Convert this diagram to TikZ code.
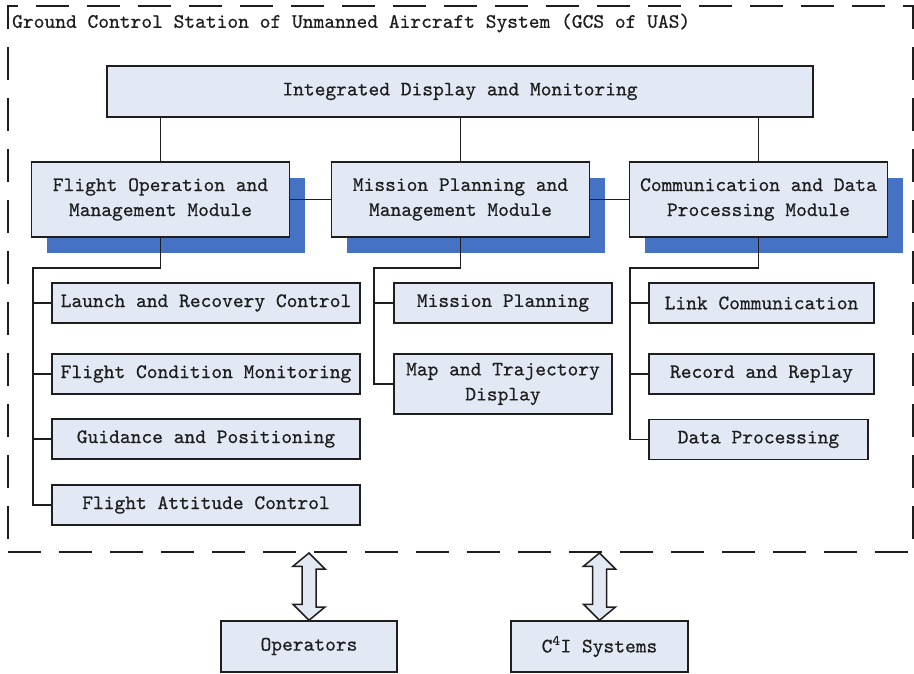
\documentclass[tikz,border=0pt]{standalone}
\usepackage{fontspec}
\usetikzlibrary{shadows,calc}

\newfontfamily\diagfont{lmmono10-regular}[Extension=.otf, FakeBold=0.6]

\definecolor{boxfill}{RGB}{226,233,245}
\definecolor{shadowblue}{RGB}{70,114,196}
\definecolor{inkgray}{RGB}{30,30,30}

\tikzset{
  txt/.style={font=\fontsize{20.5pt}{25pt}\selectfont\diagfont, text=inkgray},
  blk/.style={txt, draw=inkgray, line width=1.5pt, fill=boxfill, align=center,
              inner sep=0pt, minimum height=40pt},
  module/.style={blk, minimum width=258pt, minimum height=75pt,
                 general shadow={fill=shadowblue, shadow xshift=15pt, shadow yshift=-16pt}},
  link/.style={draw=inkgray, line width=1.5pt},
  frame/.style={draw=inkgray, line width=2pt, dash pattern=on 33pt off 18pt,
                inner sep=0pt},
  bigarrow/.style={draw=inkgray, line width=1.5pt, fill=boxfill, line join=miter},
}

\begin{document}
\begin{tikzpicture}[x=1pt, y=-1pt]
  \useasboundingbox (0,0) rectangle (914,673);

  % system boundary and its caption
  \node[frame, anchor=north west, minimum width=905pt, minimum height=546pt] (gcs) at (7,5) {};
  \node[txt, anchor=west, inner sep=0pt] (title) at (12,23)
    {Ground Control Station of Unmanned Aircraft System (GCS of UAS)};

  % top level
  \node[blk, minimum width=706pt, minimum height=51pt] (integ) at (460,91.5)
    {Integrated Display and Monitoring};

  % three modules
  \node[module] (fom) at (160.5,199.5) {Flight Operation and\\Management Module};
  \node[module] (mpm) at (460.5,199.5) {Mission Planning and\\Management Module};
  \node[module] (cdp) at (758.5,199.5) {Communication and Data\\Processing Module};

  % flight operation functions
  \node[blk, minimum width=308pt] (launch) at (206,303) {Launch and Recovery Control};
  \node[blk, minimum width=308pt] (cond)   at (206,374) {Flight Condition Monitoring};
  \node[blk, minimum width=308pt] (guid)   at (206,439) {Guidance and Positioning};
  \node[blk, minimum width=308pt] (att)    at (206,505) {Flight Attitude Control};

  % mission planning functions
  \node[blk, minimum width=218pt] (mp)   at (503,303) {Mission Planning};
  \node[blk, minimum width=218pt, minimum height=60pt] (mapt) at (503,384)
    {Map and Trajectory\\Display};

  % communication functions
  \node[blk, minimum width=225pt] (lnk) at (761.5,303) {Link Communication};
  \node[blk, minimum width=225pt] (rec) at (761.5,374) {Record and Replay};
  \node[blk, minimum width=219pt] (dp)  at (758.5,439.5) {Data Processing};

  % external parties
  \node[blk, minimum width=176pt, minimum height=51pt] (ops) at (309,646.5) {Operators};
  \node[blk, minimum width=177pt, minimum height=51pt] (c4i) at (599.5,646.5)
    {C\textsuperscript{4}I Systems};

  % top level to modules
  \draw[link] (fom.north) -- (fom.north |- integ.south);
  \draw[link] (mpm.north) -- (mpm.north |- integ.south);
  \draw[link] (cdp.north) -- (cdp.north |- integ.south);
  \draw[link] (fom.east) -- (mpm.west);
  \draw[link] (mpm.east) -- (cdp.west);

  % bus lines to the functions
  \coordinate (fbus) at (33,268);
  \coordinate (mbus) at (374,268);
  \coordinate (cbus) at (630,268);

  \draw[link] (fom.south) |- (fbus) |- (att.west);
  \draw[link] (fbus |- launch.west) -- (launch.west);
  \draw[link] (fbus |- cond.west) -- (cond.west);
  \draw[link] (fbus |- guid.west) -- (guid.west);

  \draw[link] (mpm.south) |- (mbus) |- (mapt.west);
  \draw[link] (mbus |- mp.west) -- (mp.west);

  \draw[link] (cdp.south) |- (cbus) |- (dp.west);
  \draw[link] (cbus |- lnk.west) -- (lnk.west);
  \draw[link] (cbus |- rec.west) -- (rec.west);

  % two-way block arrows across the boundary
  \foreach \ext in {ops, c4i} {
    \draw[bigarrow] (\ext.north |- gcs.south)
      -- ++(16,16) -- ++(-9,0) -- ++(0,38) -- ++(9,0)
      -- (\ext.north)
      -- ++(-16,-16) -- ++(9,0) -- ++(0,-38) -- ++(-9,0) -- cycle;
  }
\end{tikzpicture}
\end{document}
